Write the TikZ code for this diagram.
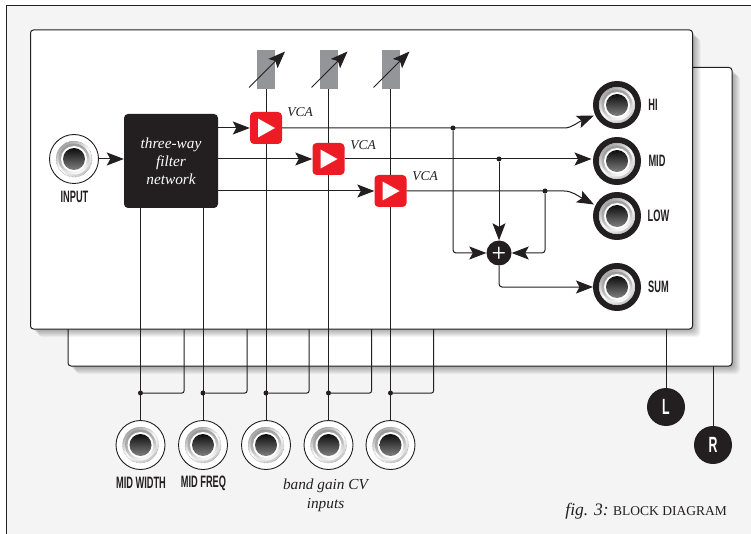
\documentclass[tikz,border=0pt]{standalone}
\usepackage{fontspec}
\setmainfont{Liberation Serif}
\newfontfamily\jackfont[FakeStretch=0.56]{Liberation Sans}
\usetikzlibrary{arrows.meta}
\definecolor{ink}{HTML}{231F20}
\definecolor{paper}{HTML}{F4F4F4}
\definecolor{vcared}{HTML}{ED1C24}
\definecolor{gaingrey}{HTML}{939598}
\tikzset{
    wire/.style={draw=ink, line width=1pt},
    sig/.style={wire, -{Stealth[length=17pt, width=13pt, inset=3.5pt]}},
    panel/.style={draw=ink, fill=white, line width=1pt, rounded corners=3pt},
    jack/.style={circle, draw=ink, fill=white, line width=0.9pt, inner sep=0pt, minimum size=49pt},
    outjack/.style={circle, draw=ink, fill=white, line width=6pt, inner sep=0pt, minimum size=42pt},
    jackname/.style={text=ink, inner sep=0pt, font=\jackfont\bfseries\fontsize{16.5}{18}\selectfont},
    note/.style={text=ink, inner sep=0pt, align=center, font=\itshape\fontsize{13.5}{19}\selectfont},
    vca/.style={rectangle, fill=vcared, rounded corners=4pt, inner sep=0pt, minimum size=32pt},
    gainbar/.style={rectangle, fill=gaingrey, inner sep=0pt, minimum width=18pt, minimum height=39pt},
    dot/.style={circle, fill=ink, inner sep=0pt, minimum size=5pt},
    outcircle/.style={circle, fill=ink, text=white, inner sep=0pt, minimum size=38pt, font=\jackfont\bfseries\fontsize{22}{24}\selectfont},
    jackface/.pic={
        \shade[top color=gray!70, bottom color=gray!45, middle color=white, shading angle=35] (0,0) circle (18);
        \draw[gray, line width=0.4pt, densely dotted] (0,0) circle (18);
        \shade[top color=white, bottom color=gray!80, middle color=gray!55, shading angle=200] (0,0) circle (15.5);
        \fill[white] (0,0) circle (13);
        \shade[top color=black!95, bottom color=black!50] (0,0) circle (11);
    },
}
\begin{document}
\begin{tikzpicture}[x=1pt, y=-1pt]
    \useasboundingbox (0,0) rectangle (751,534);
    \fill[paper] (6.5,6) rectangle (751,534);
    \draw[ink, line width=1pt] (751,6) -- (6.5,6) -- (6.5,534);

    % panels with their soft shadows
    \foreach \i in {1,...,8} {
        \fill[black, opacity=0.045, rounded corners=4pt] (68+\i,67.5+\i) rectangle (732+\i,366+\i);
    }
    \draw[panel] (68,67.5) rectangle (732,366);
    \foreach \i in {1,...,8} {
        \fill[black, opacity=0.045, rounded corners=4pt] (30.5+\i,30+\i) rectangle (692.5+\i,329+\i);
    }
    \draw[panel] (30.5,30) rectangle (692.5,329);

    % jacks
    \node[jack] (input) at (74,159) {};
    \node[jack] (midwidth) at (140.5,445) {};
    \node[jack] (midfreq) at (203,445) {};
    \node[jack] (cvhi) at (266,445) {};
    \node[jack] (cvmid) at (328.5,445) {};
    \node[jack] (cvlow) at (390.5,445) {};
    \node[outjack] (hi) at (617,105) {};
    \node[outjack] (mid) at (617,161) {};
    \node[outjack] (low) at (617,216) {};
    \node[outjack] (sumout) at (617,287) {};
    \foreach \j in {input,midwidth,midfreq,cvhi,cvmid,cvlow,hi,mid,low,sumout} {
        \pic at (\j) {jackface};
    }

    % blocks
    \node[rectangle, fill=ink, rounded corners=4pt, text=white, inner sep=0pt, minimum size=94pt, align=center, font=\itshape\fontsize{15.3}{18}\selectfont] (filter) at (171,161) {three-way\\filter\\network};
    \node[gainbar] (gainhi) at (266,69.5) {};
    \node[gainbar] (gainmid) at (328.5,69.5) {};
    \node[gainbar] (gainlow) at (390.5,69.5) {};
    \node[vca] (vcahi) at (266,128) {};
    \node[vca] (vcamid) at (328.5,159) {};
    \node[vca] (vcalow) at (390.5,191) {};
    \node[circle, fill=ink, text=white, inner sep=0pt, minimum size=25pt, font=\sffamily\bfseries\fontsize{17}{17}\selectfont] (sum) at (499,253) {+};
    \node[outcircle] (L) at (666,407) {L};
    \node[outcircle] (R) at (713,445) {R};

    % control lines run behind the VCAs
    \node[dot] (tapwidth) at (140.5,393) {};
    \node[dot] (tapfreq) at (203,393) {};
    \node[dot] (taphi) at (266,393) {};
    \node[dot] (tapmid) at (328.5,393) {};
    \node[dot] (taplow) at (390.5,393) {};
    \draw[wire] (filter.south -| midwidth) -- (midwidth.north);
    \draw[wire] (filter.south -| midfreq) -- (midfreq.north);
    \draw[wire] (gainhi.south) -- (vcahi.north);
    \draw[wire] (vcahi.south) -- (cvhi.north);
    \draw[wire] (gainmid.south) -- (vcamid.north);
    \draw[wire] (vcamid.south) -- (cvmid.north);
    \draw[wire] (gainlow.south) -- (vcalow.north);
    \draw[wire] (vcalow.south) -- (cvlow.north);
    \draw[wire, rounded corners=2pt] (tapwidth) -- (184,393) -- (184,329);
    \draw[wire, rounded corners=2pt] (tapfreq) -- (247,393) -- (247,329);
    \draw[wire, rounded corners=2pt] (taphi) -- (309,393) -- (309,329);
    \draw[wire, rounded corners=2pt] (tapmid) -- (371.5,393) -- (371.5,329);
    \draw[wire, rounded corners=2pt] (taplow) -- (433.5,393) -- (433.5,329);
    \draw[wire] (L.north) -- (666,329);
    \draw[wire] (R.north) -- (713,366);

    % gain arrows
    \foreach \gx in {266,328.5,390.5} {
        \draw[sig] (\gx-17,87.5) -- (\gx+19,51.5);
    }

    % triangles
    \foreach \v in {vcahi,vcamid,vcalow} {
        \fill[white] ([shift={(-8,-9.5)}]\v.center) -- ([shift={(9,0)}]\v.center) -- ([shift={(-8,9.5)}]\v.center) -- cycle;
    }

    % signal path
    \node[dot] (taptop) at (453,128) {};
    \node[dot] (tapcen) at (499,159) {};
    \node[dot] (tapbot) at (545,191) {};
    \draw[sig] (input.east) -- (filter.west |- input);
    \draw[sig] (filter.east |- vcahi) -- (vcahi.west);
    \draw[sig] (filter.east |- vcamid) -- (vcamid.west);
    \draw[sig] (filter.east |- vcalow) -- (vcalow.west);
    \draw[sig] (vcahi.east) -- (564,128) .. controls (572,128) and (578,122) .. (594,115.5);
    \draw[sig] (vcamid.east) -- (591.5,159);
    \draw[sig] (vcalow.east) -- (564,191) .. controls (572,191) and (578,196) .. (594,204.5);
    \draw[sig, rounded corners=3pt] (taptop) |- (sum.west);
    \draw[sig] (tapcen) -- (sum.north);
    \draw[sig, rounded corners=3pt] (tapbot) |- (sum.east);
    \draw[sig, rounded corners=3pt] (sum.south) |- (sumout.west);

    % labels
    \node[jackname] (inputname) at (74.5,197) {INPUT};
    \node[jackname] (hiname) at (653,105) {HI};
    \node[jackname] (midname) at (657,161) {MID};
    \node[jackname] (lowname) at (658.5,216) {LOW};
    \node[jackname] (sumname) at (658.5,287) {SUM};
    \node[jackname] (widthname) at (141,483) {MID WIDTH};
    \node[jackname] (freqname) at (203.5,483) {MID FREQ};
    \node[note, font=\itshape\fontsize{15.3}{19}\selectfont] (cvname) at (325.5,495) {band gain CV\\inputs};
    \node[note] (vcahiname) at (300,112) {VCA};
    \node[note] (vcamidname) at (363,145) {VCA};
    \node[note] (vcalowname) at (425,176) {VCA};
    \node[text=ink, inner sep=0pt, anchor=east, font=\fontsize{13.5}{15}\selectfont] (caption) at (727,511) {\textit{\fontsize{17.5}{15}\selectfont fig. 3:} BLOCK DIAGRAM};
\end{tikzpicture}
\end{document}
